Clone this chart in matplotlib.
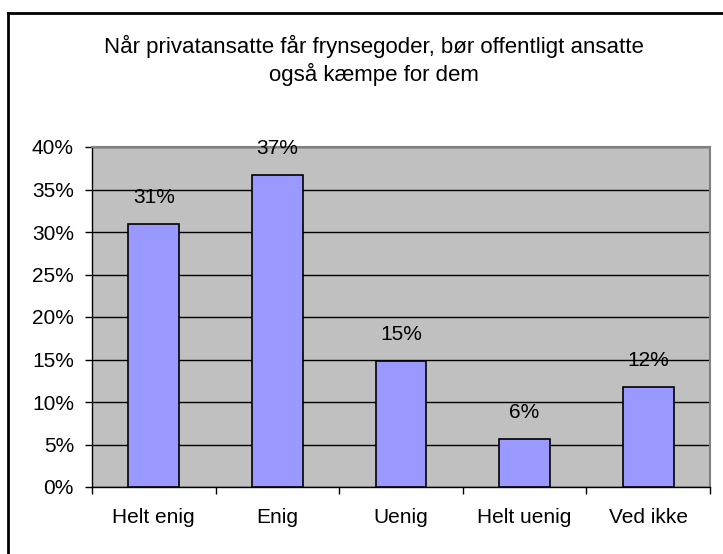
import matplotlib.pyplot as plt
from matplotlib.lines import Line2D
from matplotlib.ticker import FuncFormatter, FixedLocator

plt.rcParams['font.family'] = ['Liberation Sans', 'DejaVu Sans']

kategorier = ['Helt enig', 'Enig', 'Uenig', 'Helt uenig', 'Ved ikke']
andele = [0.31, 0.367, 0.148, 0.057, 0.118]
etiketter = ['31%', '37%', '15%', '6%', '12%']
titel = 'Når privatansatte får frynsegoder, bør offentligt ansatte\nogså kæmpe for dem'

fig = plt.figure(figsize=(7.23, 5.54), dpi=100)
ax = fig.add_axes([92 / 723, 67 / 554, 618 / 723, 340 / 554])

x = list(range(len(kategorier)))
ax.bar(x, andele, width=0.41, color='#9999FF', edgecolor='black', linewidth=1.2, zorder=3)

for xi, v, lab in zip(x, andele, etiketter):
    ax.annotate(lab, (xi, v), xytext=(0, 19), textcoords='offset points',
                ha='center', va='center', fontsize=15, zorder=4)

ax.set_facecolor('#C0C0C0')
ax.set_xlim(-0.5, len(kategorier) - 0.5)
ax.set_ylim(0, 0.40)
ax.set_yticks([i * 0.05 for i in range(9)])
ax.yaxis.set_major_formatter(FuncFormatter(lambda v, p: f'{v * 100:.0f}%'))
ax.yaxis.grid(True, color='black', linewidth=1.0, zorder=1)
ax.set_axisbelow(True)

# ticks at category boundaries, labels in the middle
ax.xaxis.set_major_locator(FixedLocator([i - 0.5 for i in range(len(kategorier) + 1)]))
ax.xaxis.set_major_formatter(FuncFormatter(lambda v, p: ''))
ax.set_xticks(x, minor=True)
ax.set_xticklabels(kategorier, minor=True, fontsize=15)
ax.tick_params(axis='x', which='minor', length=0, pad=15)
ax.tick_params(axis='x', which='major', length=5, width=1, direction='out')
ax.tick_params(axis='y', length=5, width=1, direction='out', pad=8, labelsize=15)

for s in ['top', 'right']:
    ax.spines[s].set_color('#808080')
    ax.spines[s].set_linewidth(1.5)
for s in ['left', 'bottom']:
    ax.spines[s].set_color('black')
    ax.spines[s].set_linewidth(1.0)

fig.text(374 / 723, 1 - 60.5 / 554, titel, ha='center', va='center',
         fontsize=16, linespacing=1.25)

# chart frame: only the top and left edges fall inside the image
fig.lines.append(Line2D([8 / 723, 8 / 723], [0, 1 - 13 / 554], transform=fig.transFigure,
                        color='black', linewidth=2))
fig.lines.append(Line2D([8 / 723, 1], [1 - 13 / 554, 1 - 13 / 554], transform=fig.transFigure,
                        color='black', linewidth=2))

fig.savefig('out.png', dpi=100)
